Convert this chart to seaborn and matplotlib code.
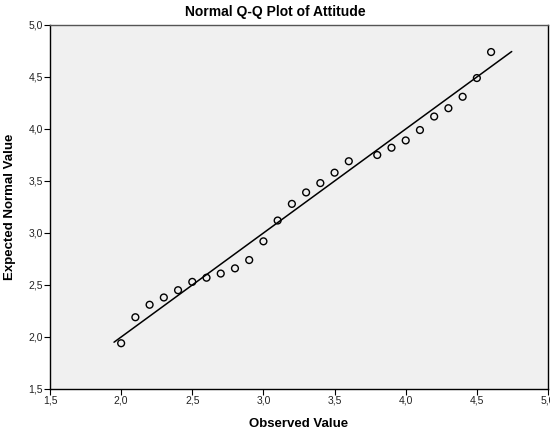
import numpy as np
import pandas as pd
import matplotlib
matplotlib.use("Agg")
import matplotlib.pyplot as plt
import seaborn as sns

observed = [2.0, 2.1, 2.2, 2.3, 2.4, 2.5, 2.6, 2.7, 2.8, 2.9, 3.0, 3.1, 3.2,
            3.3, 3.4, 3.5, 3.6, 3.8, 3.9, 4.0, 4.1, 4.2, 4.3, 4.4, 4.5, 4.6]
expected = [1.94, 2.19, 2.31, 2.38, 2.45, 2.53, 2.57, 2.61, 2.66, 2.74, 2.92,
            3.12, 3.28, 3.39, 3.48, 3.58, 3.69, 3.75, 3.82, 3.89, 3.99, 4.12,
            4.20, 4.31, 4.49, 4.74]

# reference line y = x
line_x = [1.95, 4.745]

ticks = [1.5, 2.0, 2.5, 3.0, 3.5, 4.0, 4.5, 5.0]
tick_labels = ["1,5", "2,0", "2,5", "3,0", "3,5", "4,0", "4,5", "5,0"]

sns.set_style("white")
plt.rcParams["font.family"] = ["Liberation Sans", "DejaVu Sans"]

df = pd.DataFrame({"Observed": observed, "Expected": expected})

fig = plt.figure(figsize=(5.5, 4.34), dpi=100)
ax = fig.add_axes([50 / 550, 1 - 389 / 434, 498 / 550, 364 / 434])
ax.set_facecolor("#f0f0f0")

sns.lineplot(x=line_x, y=line_x, ax=ax, color="black", linewidth=1.1)
sns.scatterplot(data=df, x="Observed", y="Expected", ax=ax, marker="o",
                s=24, facecolors="none", edgecolor="black", linewidth=1.0)

ax.set_xlim(1.5, 5.0)
ax.set_ylim(1.5, 5.0)
ax.set_xticks(ticks)
ax.set_xticklabels(tick_labels)
ax.set_yticks(ticks)
ax.set_yticklabels(tick_labels)
ax.tick_params(axis="both", direction="out", length=4, width=0.8,
               labelsize=7.5, labelcolor="#222222", pad=1,
               bottom=True, left=True, color="black")

for side in ["top", "right", "bottom", "left"]:
    ax.spines[side].set_visible(True)
    ax.spines[side].set_color("black")
    ax.spines[side].set_linewidth(1.0)
ax.spines["top"].set_color("#555555")

# title is centred on the whole figure, as in the original
fig.suptitle("Normal Q-Q Plot of Attitude", x=0.5, y=1 - 5 / 434, va="top",
             fontsize=10, fontweight="bold", color="black")
ax.set_xlabel("Observed Value", fontsize=9.5, fontweight="bold", labelpad=9,
              color="black")
ax.set_ylabel("Expected Normal Value", fontsize=9.5, fontweight="bold",
              labelpad=9, color="black")

fig.savefig("out.png", dpi=100)
